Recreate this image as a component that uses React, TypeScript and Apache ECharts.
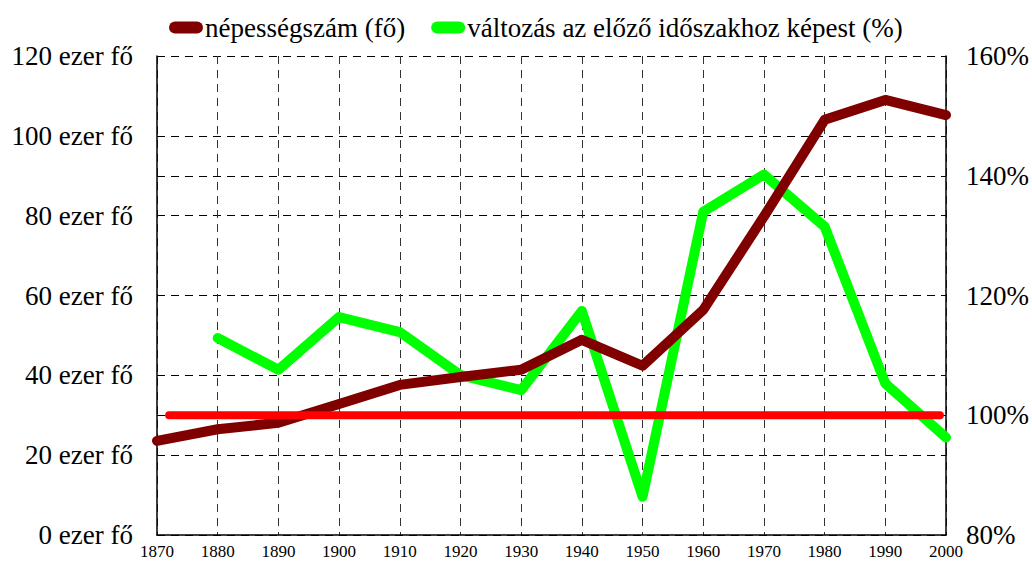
import React, { useEffect, useRef } from "react";
import * as echarts from "echarts";

const years = [1870, 1880, 1890, 1900, 1910, 1920, 1930, 1940, 1950, 1960, 1970, 1980, 1990, 2000];
const population = [23.6, 26.5, 28.1, 32.8, 37.6, 39.6, 41.4, 48.9, 42.4, 56.4, 79.8, 104, 109, 105.2];
const changeYears = [1880, 1890, 1900, 1910, 1920, 1930, 1940, 1950, 1960, 1970, 1980, 1990, 2000];
const changePct = [112.9, 107.6, 116.4, 113.9, 106.7, 104.2, 117.4, 86.4, 134.0, 140.2, 131.5, 105.3, 96.3];
const baselineYears = [1872, 1999];
const baselinePct = [100, 100];
const popName = "népességszám (fő)";
const changeName = "változás az előző időszakhoz képest (%)";

const FONT = "Liberation Serif";
const capsule = "path://M6,0 L28,0 A6,6 0 0 1 28,12 L6,12 A6,6 0 0 1 6,0 Z";

export default function App() {
  const ref = useRef<HTMLDivElement>(null);
  useEffect(() => {
    document.body.style.margin = "0";
    const chart = echarts.init(ref.current!, null, { renderer: "svg" });
    chart.setOption({
      animation: false,
      backgroundColor: "#ffffff",
      textStyle: { fontFamily: FONT },
      legend: {
        top: 9,
        left: 164,
        itemWidth: 34,
        itemHeight: 12,
        itemGap: 26,
        data: [
          { name: popName, icon: capsule },
          { name: changeName, icon: capsule },
        ],
        textStyle: { fontFamily: FONT, fontSize: 27, color: "#000", padding: [0, 0, 0, -3] },
      },
      grid: { left: 157, right: 84, top: 56, bottom: 33, containLabel: false },
      xAxis: {
        type: "value",
        min: 1870,
        max: 2000,
        interval: 10,
        axisLine: { lineStyle: { color: "#000", width: 1.5 } },
        axisTick: { show: false },
        axisLabel: {
          fontFamily: FONT,
          fontSize: 17,
          color: "#000",
          margin: 8,
          formatter: (v: number) => String(v),
        },
        splitLine: { show: true, lineStyle: { color: "#333", type: [8, 6], width: 1 } },
      },
      yAxis: [
        {
          type: "value",
          min: 0,
          max: 120,
          interval: 20,
          axisLine: { show: true, lineStyle: { color: "#000", width: 1.5 } },
          axisTick: { show: false },
          axisLabel: { fontFamily: FONT, fontSize: 27, color: "#000", margin: 24, formatter: "{value} ezer fő" },
          splitLine: { show: true, lineStyle: { color: "#000", type: [8, 6], width: 1 } },
        },
        {
          type: "value",
          min: 80,
          max: 160,
          interval: 20,
          position: "right",
          axisLine: { show: true, lineStyle: { color: "#000", width: 1.5 } },
          axisTick: { show: false },
          axisLabel: { fontFamily: FONT, fontSize: 27, color: "#000", margin: 20, formatter: "{value}%" },
          splitLine: { show: true, lineStyle: { color: "#000", type: [8, 6], width: 1 } },
        },
      ],
      series: [
        {
          name: popName,
          type: "line",
          yAxisIndex: 0,
          z: 3,
          showSymbol: false,
          symbol: "none",
          color: "#800000",
          lineStyle: { width: 10, color: "#800000", cap: "round", join: "round" },
          data: years.map((y, i) => [y, population[i]]),
        },
        {
          name: changeName,
          type: "line",
          yAxisIndex: 1,
          z: 2,
          showSymbol: false,
          symbol: "none",
          color: "#00ff00",
          lineStyle: { width: 10, color: "#00ff00", cap: "round", join: "round" },
          data: changeYears.map((y, i) => [y, changePct[i]]),
        },
        {
          name: "100%",
          type: "line",
          yAxisIndex: 1,
          z: 4,
          showSymbol: false,
          symbol: "none",
          color: "#ff0000",
          lineStyle: { width: 8, color: "#ff0000", cap: "round" },
          data: baselineYears.map((y, i) => [y, baselinePct[i]]),
        },
      ],
    });
    return () => chart.dispose();
  }, []);
  return <div ref={ref} style={{ width: 1032, height: 568 }} />;
}
